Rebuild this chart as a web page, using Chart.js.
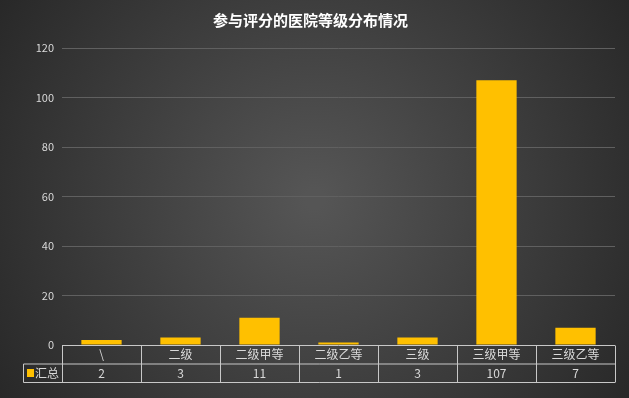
<!DOCTYPE html>
<html>
<head>
<meta charset="utf-8">
<script src="https://cdn.jsdelivr.net/npm/chart.js@4.4.1/dist/chart.umd.min.js"></script>
<style>
  html, body { margin: 0; padding: 0; background: #333; }
  #wrap { width: 629px; height: 398px; position: relative; }
</style>
</head>
<body>
<div id="wrap"><canvas id="barChart"></canvas></div>
<script>
var titleText = "参与评分的医院等级分布情况";
var categories = ["\\", "二级", "二级甲等", "二级乙等", "三级", "三级甲等", "三级乙等"];
var seriesName = "汇总";
var values = [2, 3, 11, 1, 3, 107, 7];
var yTicks = [0, 20, 40, 60, 80, 100, 120];

var FONT = "'Noto Sans CJK SC', 'Microsoft YaHei', sans-serif";
var YELLOW = "#FFC000";

// background + title
var bgPlugin = {
  id: 'bg',
  beforeDraw: function(chart) {
    var c = chart.ctx, w = chart.width, h = chart.height;
    var g = c.createRadialGradient(w / 2, h / 2, 10, w / 2, h / 2, w * 0.62);
    g.addColorStop(0, "#555555");
    g.addColorStop(1, "#262626");
    c.save();
    c.fillStyle = g;
    c.fillRect(0, 0, w, h);
    c.fillStyle = "#ffffff";
    c.font = "bold 15px " + FONT;
    c.textAlign = "center";
    c.textBaseline = "middle";
    c.fillText(titleText, w / 2 - 4, 20);
    c.restore();
  }
};

// data table below the plot
var tablePlugin = {
  id: 'table',
  afterDraw: function(chart) {
    var c = chart.ctx;
    var x = chart.scales.x;
    var area = chart.chartArea;
    var top = Math.round(area.bottom) + 0.5;
    var rowH = 18.5;
    var mid = top + rowH, bot = mid + rowH;
    var step = (area.right - area.left) / categories.length;
    var legLeft = 23.5;
    c.save();
    c.strokeStyle = "#c8c8c8";
    c.lineWidth = 1;
    c.beginPath();
    c.moveTo(area.left, top); c.lineTo(area.right, top);
    c.moveTo(legLeft, mid); c.lineTo(area.right, mid);
    c.moveTo(legLeft, bot); c.lineTo(area.right, bot);
    c.moveTo(legLeft, mid); c.lineTo(legLeft, bot);
    for (var i = 0; i <= categories.length; i++) {
      var px = Math.round(area.left + i * step) + 0.5;
      c.moveTo(px, top); c.lineTo(px, bot);
    }
    c.stroke();
    c.fillStyle = "#d9d9d9";
    c.font = "12px " + FONT;
    c.textAlign = "center";
    c.textBaseline = "middle";
    for (var j = 0; j < categories.length; j++) {
      var cx = x.getPixelForValue(j);
      c.fillText(categories[j], cx, top + rowH / 2);
      c.fillText(String(values[j]), cx, mid + rowH / 2);
    }
    // legend key
    c.fillStyle = YELLOW;
    c.fillRect(27, mid + 5, 7, 8);
    c.fillStyle = "#d9d9d9";
    c.textAlign = "left";
    c.fillText(seriesName, 35, mid + rowH / 2);
    c.restore();
  }
};

var ctx = document.getElementById("barChart").getContext('2d');
var myBarChart = new Chart(ctx, {
  type: 'bar',
  data: {
    labels: categories,
    datasets: [{
      label: seriesName,
      data: values,
      backgroundColor: YELLOW,
      barPercentage: 0.51,
      categoryPercentage: 1
    }]
  },
  options: {
    responsive: true,
    maintainAspectRatio: false,
    animation: false,
    layout: { padding: { top: 48, right: 14, bottom: 53, left: 0 } },
    plugins: {
      legend: { display: false },
      title: { display: false },
      tooltip: { enabled: false }
    },
    scales: {
      x: {
        display: false
      },
      y: {
        min: 0,
        max: 120,
        afterFit: function(s) { s.width = 62; },
        afterBuildTicks: function(s) {
          s.ticks = yTicks.map(function(v) { return { value: v }; });
        },
        border: { display: false },
        grid: { color: "#606060", drawTicks: false },
        ticks: {
          color: "#d9d9d9",
          font: { family: FONT, size: 11 },
          padding: 8
        }
      }
    }
  },
  plugins: [bgPlugin, tablePlugin]
});
</script>
</body>
</html>
